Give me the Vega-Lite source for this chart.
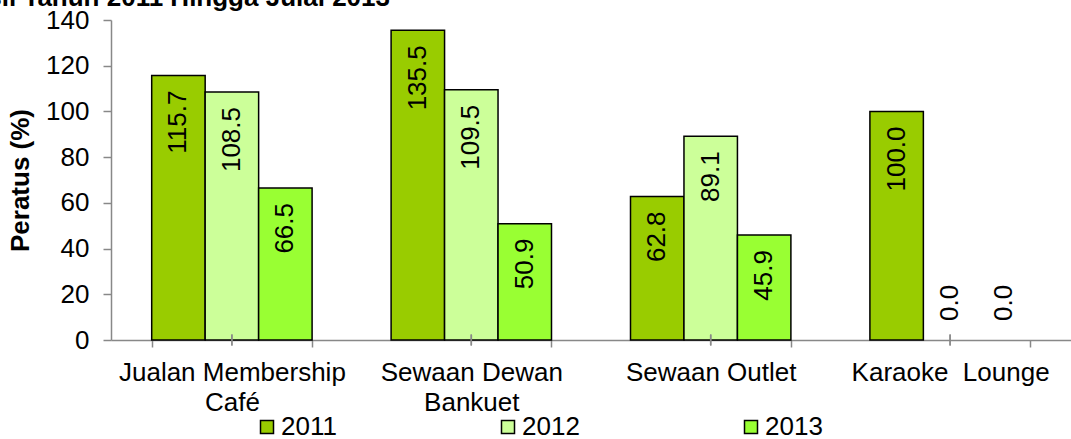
{
  "$schema": "https://vega.github.io/schema/vega-lite/v6.json",
  "width": 960,
  "height": 320,
  "autosize": {"type": "none"},
  "padding": {"left": 111, "top": 20, "right": 0, "bottom": 99},
  "background": "white",
  "title": {
    "text": "Prestasi Kutipan Hasil Tahun 2011 Hingga Julai 2013",
    "anchor": "end",
    "frame": "group",
    "dx": -681,
    "dy": 25,
    "offset": 0,
    "baseline": "alphabetic",
    "font": "Liberation Sans",
    "fontSize": 26,
    "fontWeight": "bold",
    "color": "black"
  },
  "data": {
    "values": [
      {"category": "Jualan Membership Café", "year": "2011", "value": 115.7},
      {"category": "Jualan Membership Café", "year": "2012", "value": 108.5},
      {"category": "Jualan Membership Café", "year": "2013", "value": 66.5},
      {"category": "Sewaan Dewan Bankuet", "year": "2011", "value": 135.5},
      {"category": "Sewaan Dewan Bankuet", "year": "2012", "value": 109.5},
      {"category": "Sewaan Dewan Bankuet", "year": "2013", "value": 50.9},
      {"category": "Sewaan Outlet", "year": "2011", "value": 62.8},
      {"category": "Sewaan Outlet", "year": "2012", "value": 89.1},
      {"category": "Sewaan Outlet", "year": "2013", "value": 45.9},
      {"category": "Karaoke Lounge", "year": "2011", "value": 100.0},
      {"category": "Karaoke Lounge", "year": "2012", "value": 0.0},
      {"category": "Karaoke Lounge", "year": "2013", "value": 0.0}
    ]
  },
  "encoding": {
    "x": {
      "field": "category",
      "type": "nominal",
      "sort": ["Jualan Membership Café", "Sewaan Dewan Bankuet", "Sewaan Outlet", "Karaoke Lounge"],
      "scale": {"paddingInner": 0.33, "paddingOuter": 0.17},
      "axis": {
        "title": null,
        "labelAngle": 0,
        "tickBand": "extent",
        "labelExpr": "datum.value == 'Jualan Membership Café' ? ['Jualan Membership', 'Café'] : datum.value == 'Sewaan Dewan Bankuet' ? ['Sewaan Dewan', 'Bankuet'] : datum.value == 'Karaoke Lounge' ? 'Karaoke\u00a0 Lounge' : datum.value",
        "labelFontSize": 26,
        "labelFont": "Liberation Sans",
        "labelColor": "black",
        "labelLineHeight": 30,
        "labelPadding": 12,
        "labelOverlap": false,
        "labelBound": false,
        "labelLimit": 400,
        "tickSize": 7,
        "tickColor": "#888888",
        "domainColor": "#888888",
        "tickWidth": 1.5,
        "domainWidth": 1.5
      }
    },
    "y": {
      "field": "value",
      "type": "quantitative",
      "scale": {"domain": [0, 140], "nice": false},
      "axis": {
        "title": "Peratus (%)",
        "titleFont": "Liberation Sans",
        "titleFontSize": 26,
        "titleFontWeight": "bold",
        "titleColor": "black",
        "titlePadding": 12,
        "values": [0, 20, 40, 60, 80, 100, 120, 140],
        "labelFontSize": 26,
        "labelFont": "Liberation Sans",
        "labelColor": "black",
        "labelPadding": 14,
        "tickSize": 8,
        "tickColor": "#888888",
        "domainColor": "#888888",
        "tickWidth": 1.5,
        "domainWidth": 1.5,
        "grid": false
      }
    }
  },
  "layer": [
    {
      "transform": [{"filter": "datum.value > 0"}],
      "mark": {"type": "bar", "stroke": "black", "strokeWidth": 1.5},
      "encoding": {
        "xOffset": {"field": "year", "type": "nominal", "scale": {"domain": ["2011", "2012", "2013"], "paddingInner": 0, "paddingOuter": 0}},
        "fill": {
          "field": "year",
          "type": "nominal",
          "scale": {"domain": ["2011", "2012", "2013"], "range": ["#99CC00", "#CCFF99", "#99FF33"]},
          "legend": {
            "orient": "none",
            "legendX": 143,
            "legendY": 394,
            "direction": "horizontal",
            "columns": 3,
            "columnPadding": 158,
            "title": null,
            "symbolType": "square",
            "symbolSize": 169,
            "symbolStrokeColor": "black",
            "symbolStrokeWidth": 1.5,
            "symbolOpacity": 1,
            "labelFontSize": 26,
            "labelFont": "Liberation Sans",
            "labelColor": "black",
            "labelOffset": 1
          }
        }
      }
    },
    {
      "transform": [{"filter": "datum.value > 0"}],
      "mark": {"type": "text", "angle": 270, "align": "right", "baseline": "middle", "dx": -15, "font": "Liberation Sans", "fontSize": 26, "color": "black"},
      "encoding": {
        "xOffset": {"field": "year", "type": "nominal"},
        "text": {"field": "value", "type": "quantitative", "format": ".1f"}
      }
    },
    {
      "transform": [{"filter": "datum.value == 0"}],
      "mark": {"type": "text", "angle": 270, "align": "left", "baseline": "middle", "dx": 19, "font": "Liberation Sans", "fontSize": 26, "color": "black"},
      "encoding": {
        "xOffset": {"field": "year", "type": "nominal"},
        "text": {"field": "value", "type": "quantitative", "format": ".1f"}
      }
    },
    {
      "mark": {"type": "tick", "orient": "vertical", "size": 11, "thickness": 1.5, "color": "#888888"},
      "encoding": {
        "y": {"datum": 0}
      }
    }
  ],
  "config": {
    "view": {"stroke": null},
    "axis": {"grid": false}
  }
}
